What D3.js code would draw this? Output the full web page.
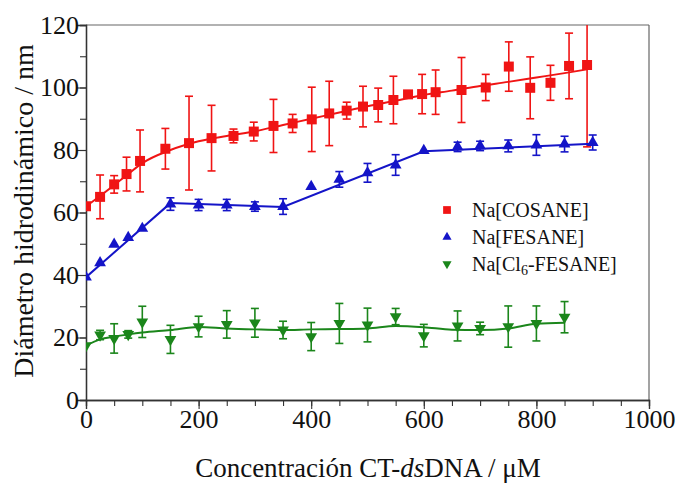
<!DOCTYPE html>
<html>
<head>
<meta charset="utf-8">
<script src="https://cdn.jsdelivr.net/npm/d3@7"></script>
<style>
  body { margin: 0; background: #fff; }
  svg, svg text { font-family: "Liberation Serif", "Times New Roman", Times, "Nimbus Roman", "DejaVu Serif", serif !important; }
</style>
</head>
<body>
<div id="chart"></div>
<script>
// --- data ---
const cosaneX   = [0, 25, 50, 72, 96, 141, 183, 223, 262, 298, 333, 367, 401, 432, 463, 492, 519, 546, 572, 597, 621, 667, 710, 751, 789, 825, 858, 890];
const cosaneY   = [62, 65, 69, 72.3, 76.5, 80.4, 82.2, 83.8, 84.5, 85.9, 87.7, 88.5, 89.8, 91.7, 92.6, 93.9, 94.4, 96, 97.8, 97.9, 98.5, 99.2, 100, 106.7, 99.9, 101.5, 106.9, 107.2];
const cosaneErr = [0, 7, 2.8, 5.4, 9.9, 6.5, 15, 10.5, 2.2, 3, 8.5, 2.9, 10.3, 10.3, 2.7, 6.5, 5.4, 7.6, 0, 6.3, 7.1, 10.4, 4.2, 7.9, 9.9, 5.6, 10.5, 26.2];
const cosaneFitX = [0, 25, 50, 75, 100, 150, 200, 250, 300, 350, 400, 450, 500, 550, 600, 650, 700, 750, 800, 850, 890];
const cosaneFitY = [62, 65.3, 68.8, 72.3, 75.8, 80, 82.8, 84.5, 86, 88, 90, 92, 94, 95.8, 97.6, 99, 100.5, 101.8, 103.2, 104.6, 105.8];

const fesaneX   = [0, 25, 50, 75, 100, 150, 200, 250, 300, 350, 400, 450, 500, 550, 600, 660, 700, 750, 800, 850, 900];
const fesaneY   = [39.3, 43.9, 49.8, 52, 54.9, 62.7, 62.4, 62.4, 61.9, 61.9, 68.3, 70.6, 72.7, 75.2, 79.8, 81, 81.3, 81.3, 81.6, 81.9, 82.4];
const fesaneErr = [0, 0, 0, 0, 0, 2, 1.8, 1.8, 1.5, 2.5, 0, 2.5, 3, 3.3, 0, 1.5, 1.5, 1.9, 3.3, 2.5, 2.4];
const fesaneFitX = [0, 150, 350, 600, 900];
const fesaneFitY = [39.3, 63, 61.8, 79.6, 82];

const clX   = [0, 25, 50, 75, 100, 150, 200, 250, 300, 350, 400, 450, 500, 550, 600, 660, 700, 750, 800, 850];
const clY   = [17.4, 20.8, 19.7, 21, 25, 19.4, 23.5, 24.2, 24.7, 22.4, 20.3, 24.5, 24, 26.7, 20.6, 23.7, 22.9, 23.5, 24.5, 26.5];
const clErr = [0, 1.5, 4.7, 1.2, 5, 4.5, 3.3, 4.4, 4.6, 2.8, 4.5, 6.4, 5.4, 2.6, 3.6, 4.8, 2, 6.6, 5.6, 5];
const clFitX = [0, 25, 50, 75, 100, 150, 200, 250, 300, 350, 400, 450, 500, 550, 600, 650, 700, 750, 800, 850];
const clFitY = [17.4, 19.4, 20.3, 21, 21.6, 22.4, 23.4, 22.9, 22.6, 22.4, 22.6, 22.7, 22.9, 23.7, 23.3, 22.5, 22.4, 22.9, 24.4, 24.7];

const xTicks = [0, 200, 400, 600, 800, 1000];
const yTicks = [0, 20, 40, 60, 80, 100, 120];
const legendLabels = ["Na[COSANE]", "Na[FESANE]", "Na[Cl6-FESANE]"];

const W = 677, H = 483;
const svg = d3.select("#chart").append("svg").attr("width", W).attr("height", H);

const x = d3.scaleLinear().domain([0, 1000]).range([86, 649]);
const y = d3.scaleLinear().domain([0, 120]).range([400, 25]);

// clip for the plot area
svg.append("defs").append("clipPath").attr("id", "plot-clip")
  .append("rect").attr("x", 86).attr("y", 25).attr("width", 563).attr("height", 375);

// frame (top & right)
svg.append("line").attr("x1", 86).attr("x2", 649).attr("y1", 25).attr("y2", 25)
  .attr("stroke", "#666").attr("stroke-width", 1.2);
svg.append("line").attr("x1", 649).attr("x2", 649).attr("y1", 25).attr("y2", 400)
  .attr("stroke", "#666").attr("stroke-width", 1.2);

// axes
const xAxis = svg.append("g").attr("transform", "translate(0,400)")
  .call(d3.axisBottom(x).tickValues(d3.range(0, 1001, 50)).tickSize(6).tickFormat(""));
const xMajor = svg.append("g").attr("transform", "translate(0,400)")
  .call(d3.axisBottom(x).tickValues(xTicks).tickSize(9).tickFormat(d3.format("d")));
const yAxis = svg.append("g").attr("transform", "translate(86,0)")
  .call(d3.axisLeft(y).tickValues(d3.range(0, 121, 10)).tickSize(6).tickFormat(""));
const yMajor = svg.append("g").attr("transform", "translate(86,0)")
  .call(d3.axisLeft(y).tickValues(yTicks).tickSize(10).tickFormat(d3.format("d")));

[xAxis, xMajor, yAxis, yMajor].forEach(g => {
  g.attr("font-family", null);
  g.select(".domain").attr("stroke", "#333").attr("stroke-width", 1.3);
  g.selectAll(".tick line").attr("stroke", "#333").attr("stroke-width", 1.1);
});
xMajor.selectAll(".tick text").attr("font-size", 26).attr("fill", "#111")
  .attr("dy", "0.71em").attr("y", 10);
yMajor.selectAll(".tick text").attr("font-size", 26).attr("fill", "#111")
  .attr("x", -7);

// axis titles
const xTitle = svg.append("text").attr("x", 368).attr("y", 477)
  .attr("text-anchor", "middle").attr("font-size", 27).attr("fill", "#111");
xTitle.append("tspan").text("Concentración CT-");
xTitle.append("tspan").attr("font-style", "italic").text("ds");
xTitle.append("tspan").text("DNA / μM");

svg.append("text").attr("transform", "translate(33,211) rotate(-90)")
  .attr("text-anchor", "middle").attr("font-size", 28).attr("fill", "#111")
  .text("Diámetro hidrodinámico / nm");

// series
const series = [
  { xs: cosaneX, ys: cosaneY, err: cosaneErr, fx: cosaneFitX, fy: cosaneFitY, color: "#f01414", sym: d3.symbolSquare, size: 100, rot: 0, curve: d3.curveMonotoneX },
  { xs: fesaneX, ys: fesaneY, err: fesaneErr, fx: fesaneFitX, fy: fesaneFitY, color: "#1414c8", sym: d3.symbolTriangle, size: 60, rot: 0, curve: d3.curveLinear },
  { xs: clX, ys: clY, err: clErr, fx: clFitX, fy: clFitY, color: "#1b861b", sym: d3.symbolTriangle, size: 60, rot: 180, curve: d3.curveMonotoneX }
];

const plot = svg.append("g").attr("clip-path", "url(#plot-clip)");
const cap = 4;

series.forEach(s => {
  const g = plot.append("g");
  const line = d3.line().x(d => x(d[0])).y(d => y(d[1])).curve(s.curve);
  g.append("path").datum(d3.zip(s.fx, s.fy))
    .attr("d", line).attr("fill", "none").attr("stroke", s.color).attr("stroke-width", 2);

  const pts = s.xs.map((v, i) => ({ x: v, y: s.ys[i], e: s.err[i] }));
  const eb = g.selectAll(".eb").data(pts.filter(d => d.e > 0)).join("g")
    .attr("stroke", s.color).attr("stroke-width", 1.6);
  eb.append("line").attr("x1", d => x(d.x)).attr("x2", d => x(d.x))
    .attr("y1", d => y(d.y - d.e)).attr("y2", d => y(d.y + d.e));
  eb.append("line").attr("x1", d => x(d.x) - cap).attr("x2", d => x(d.x) + cap)
    .attr("y1", d => y(d.y - d.e)).attr("y2", d => y(d.y - d.e));
  eb.append("line").attr("x1", d => x(d.x) - cap).attr("x2", d => x(d.x) + cap)
    .attr("y1", d => y(d.y + d.e)).attr("y2", d => y(d.y + d.e));

  g.selectAll(".pt").data(pts).join("path")
    .attr("d", d3.symbol().type(s.sym).size(s.size))
    .attr("transform", d => `translate(${x(d.x)},${y(d.y)}) rotate(${s.rot})`)
    .attr("fill", s.color);
});

// legend
const legend = svg.append("g").attr("transform", "translate(447,210)");
series.forEach((s, i) => {
  const row = legend.append("g").attr("transform", `translate(0,${i * 27})`);
  row.append("path").attr("d", d3.symbol().type(s.sym).size(s.size * 0.6))
    .attr("transform", `rotate(${s.rot})`).attr("fill", s.color);
  const t = row.append("text").attr("x", 25).attr("y", 7).attr("font-size", 20).attr("fill", "#111");
  if (i === 2) {
    t.append("tspan").text("Na[Cl");
    t.append("tspan").attr("font-size", 14).attr("dy", 4).text("6");
    t.append("tspan").attr("dy", -4).text("-FESANE]");
  } else {
    t.text(legendLabels[i]);
  }
});
</script>
</body>
</html>
